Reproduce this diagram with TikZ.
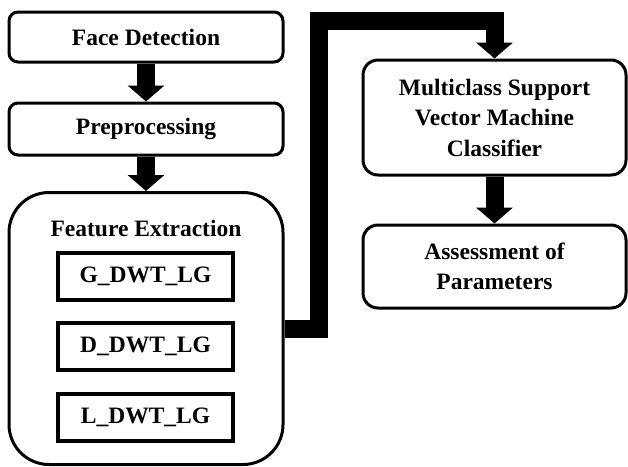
\documentclass[tikz,border=0pt]{standalone}
\usepackage{fontspec}
\setmainfont{Liberation Serif}
\usetikzlibrary{arrows.meta,calc}
\begin{document}
\begin{tikzpicture}[x=1pt,y=-1pt,
  every node/.style={font=\fontsize{23.5}{30.5}\selectfont\bfseries, align=center, inner sep=0pt},
  stage/.style={draw, line width=3pt, rounded corners=9pt, minimum width=274pt},
  feat/.style={draw, line width=4pt, minimum width=175pt, minimum height=47pt},
  flow/.style={line width=18pt, -{Triangle[length=16pt,width=36pt]}},
]
\useasboundingbox (0,0) rectangle (628,466);
\node[stage, minimum height=50pt] (fd) at (146,37) {Face Detection};
\node[stage, minimum height=52pt] (pp) at (146,129) {Preprocessing};
\node[stage, rounded corners=40pt, minimum height=272pt] (fe) at (146,328.5) {};
\node (fel) at (146,228) {Feature Extraction};
\node[feat] (g) at (145.5,276.5) {G\_DWT\_LG};
\node[feat] (d) at (145.5,346) {D\_DWT\_LG};
\node[feat] (l) at (145.5,417.5) {L\_DWT\_LG};
\node[stage, rounded corners=15pt, minimum width=263pt, minimum height=115pt] (svm) at (494.5,117.5) {Multiclass Support\\Vector Machine\\Classifier};
\node[stage, rounded corners=15pt, minimum width=263pt, minimum height=83pt] (as) at (494.5,266.5) {Assessment of\\Parameters};
\draw[flow] (fd.south) -- (pp.north);
\draw[flow] (pp.south) -- (fe.north);
\draw[flow] (svm.south) -- (as.north);
\coordinate (c1) at (319,329);
\coordinate (c2) at (319,21);
\draw[flow, line join=miter] (fe.east |- c1) -- (c1) -- (c2) -- (svm.north |- c2) -- (svm.north);
\end{tikzpicture}
\end{document}
